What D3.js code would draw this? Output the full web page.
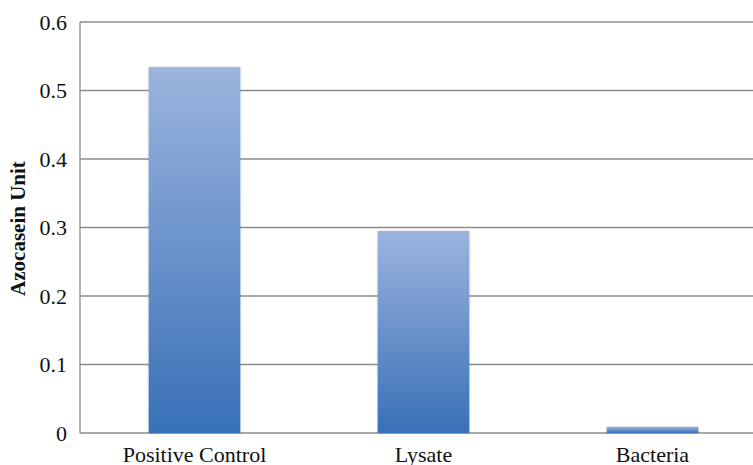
<!DOCTYPE html>
<html>
<head>
<meta charset="utf-8">
<script src="https://cdn.jsdelivr.net/npm/d3@7"></script>
<style>
  body { margin: 0; background: #fff; }
</style>
</head>
<body>
<div id="chart"></div>
<script>
const categories = ["Positive Control", "Lysate", "Bacteria"];
const values = [0.534, 0.295, 0.009];
const yTicks = [0, 0.1, 0.2, 0.3, 0.4, 0.5, 0.6];

const width = 753, height = 465;
const margin = { top: 22, right: -14, bottom: 32, left: 80 };
const innerWidth = width - margin.left - margin.right;
const innerHeight = height - margin.top - margin.bottom;
const serif = "'Liberation Serif', 'Times New Roman', Times, 'DejaVu Serif', serif";

const svg = d3.select("#chart").append("svg")
  .attr("width", width).attr("height", height)
  .attr("font-family", serif);

const defs = svg.append("defs");
const grad = defs.append("linearGradient")
  .attr("id", "barGrad").attr("x1", 0).attr("y1", 0).attr("x2", 0).attr("y2", 1);
grad.append("stop").attr("offset", "0%").attr("stop-color", "#9cb4de");
grad.append("stop").attr("offset", "100%").attr("stop-color", "#3870b7");
const shadow = defs.append("filter").attr("id", "shadow")
  .attr("x", "-10%").attr("y", "-10%").attr("width", "120%").attr("height", "120%");
shadow.append("feDropShadow").attr("dx", 0).attr("dy", 0).attr("stdDeviation", 1.2)
  .attr("flood-color", "#000").attr("flood-opacity", 0.25);

const g = svg.append("g").attr("transform", `translate(${margin.left},${margin.top})`);

const x = d3.scaleBand().domain(categories).range([0, innerWidth]).paddingInner(0.6).paddingOuter(0.3);
const y = d3.scaleLinear().domain([0, 0.6]).range([innerHeight, 0]);

// gridlines
g.selectAll(".grid").data(yTicks).join("line")
  .attr("x1", 0).attr("x2", innerWidth)
  .attr("y1", d => y(d)).attr("y2", d => y(d))
  .attr("stroke", "#8c8c8c").attr("stroke-width", 1.3);

// y axis line
g.append("line").attr("x1", 0).attr("x2", 0).attr("y1", 0).attr("y2", innerHeight)
  .attr("stroke", "#8c8c8c").attr("stroke-width", 1.3);

// bars
g.selectAll(".bar").data(values).join("rect")
  .attr("x", (d, i) => x(categories[i]))
  .attr("y", d => y(d))
  .attr("width", x.bandwidth())
  .attr("height", d => innerHeight - y(d))
  .attr("fill", "url(#barGrad)")
  .attr("filter", "url(#shadow)");

// y tick labels
g.selectAll(".ytick").data(yTicks).join("text")
  .attr("x", -13).attr("y", d => y(d) + 7.5)
  .attr("text-anchor", "end")
  .attr("fill", "#111")
  .style("font-size", "22px")
  .text(d => d === 0 ? "0" : d3.format(".1f")(d));

// x labels
g.selectAll(".xtick").data(categories).join("text")
  .attr("x", d => x(d) + x.bandwidth() / 2)
  .attr("y", innerHeight + 29)
  .attr("text-anchor", "middle")
  .attr("fill", "#111")
  .style("font-size", "22px")
  .text(d => d);

// y axis title
svg.append("text")
  .attr("transform", `translate(25,${margin.top + innerHeight / 2 + 1}) rotate(-90)`)
  .attr("text-anchor", "middle")
  .attr("fill", "#111")
  .style("font-size", "21px").style("font-weight", "bold")
  .text("Azocasein Unit");
</script>
</body>
</html>
